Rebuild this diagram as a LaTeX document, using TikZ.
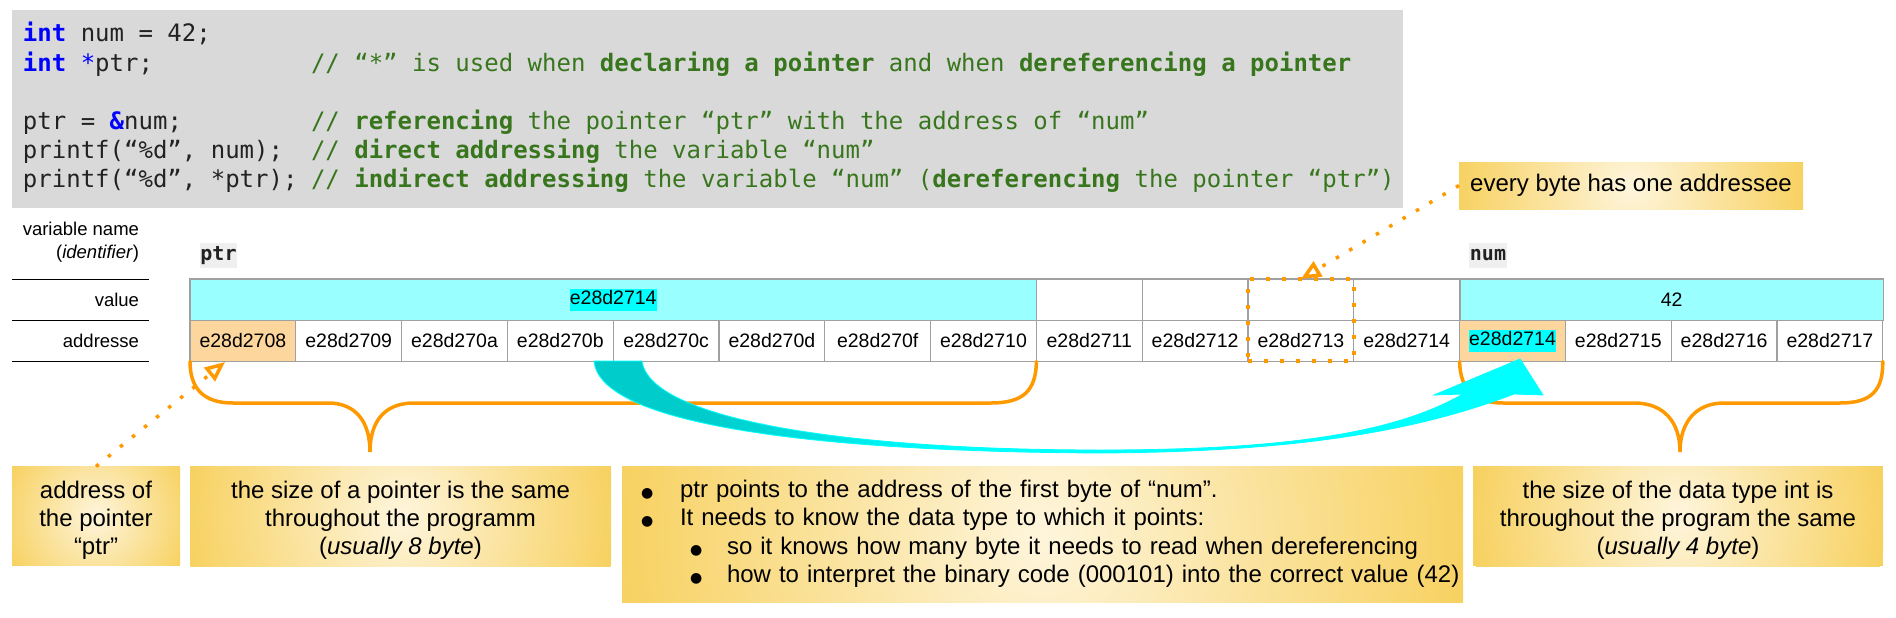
\documentclass[tikz,border=0pt]{standalone}
\usepackage{fontspec}
\setmainfont{Liberation Sans}
\newfontfamily\codefont{DejaVu Sans Mono}
\newfontfamily\symfont{DejaVu Sans}
\usetikzlibrary{arrows.meta,fit}

\definecolor{codebg}{HTML}{D9D9D9}
\definecolor{kwblue}{HTML}{0000FF}
\definecolor{cmtgreen}{HTML}{38761D}
\definecolor{codetxt}{HTML}{222222}
\definecolor{lightcyan}{HTML}{99FFFF}
\definecolor{hlcyan}{HTML}{00FFFF}
\definecolor{cyanD}{HTML}{00CCCC}
\definecolor{cellorange}{HTML}{FCD69C}
\definecolor{gridgray}{HTML}{A0A0A0}
\definecolor{orng}{HTML}{FF9900}
\definecolor{calloutout}{HTML}{F7D160}
\definecolor{calloutin}{HTML}{FEF5DC}
\definecolor{idbg}{HTML}{EFEFEF}

\newcommand\kw[1]{\textcolor{kwblue}{\textbf{#1}}}
\newcommand\hlc[1]{{\setlength{\fboxsep}{0pt}\colorbox{hlcyan}{\strut #1}}}
\newcommand\bul{{\symfont\fontsize{14}{14}\selectfont ●}}

\pgfdeclarehorizontalshading{cyanarrow}{100bp}{color(0bp)=(cyanD); color(31bp)=(cyanD); color(44bp)=(hlcyan); color(100bp)=(hlcyan)}

\begin{document}
\begin{tikzpicture}[x=1pt,y=-1pt,
  every node/.style={inner sep=0pt, outer sep=0pt},
  codeline/.style={anchor=base west, font=\codefont\fontsize{24}{29}\selectfont, text=codetxt},
  cmt/.style={codeline, text=cmtgreen},
  cellbox/.style={draw=gridgray, line width=1.2pt, minimum width=105.8pt, minimum height=41.2pt, font=\fontsize{19.5}{22}\selectfont},
  rowlabel/.style={anchor=east, font=\fontsize{18.5}{21}\selectfont},
  idlabel/.style={fill=idbg, font=\codefont\bfseries\fontsize{20}{24}\selectfont, text=codetxt, minimum height=25pt, inner xsep=0.5pt},
  brace/.style={draw=orng, line width=3.5pt, line cap=round},
  dotconn/.style={draw=orng, line width=3.5pt, dash pattern=on 3.5pt off 12pt, -{Triangle[open, length=20pt, width=17pt]}},
  callout/.style={fill=calloutout, path picture={\shade[inner color=calloutin, outer color=calloutout] (path picture bounding box.center) circle (#1);}, font=\fontsize{24}{28}\selectfont, align=center},
]
\useasboundingbox (0,0) rectangle (1896,618);

% code block
\node[fill=codebg, minimum width=1391pt, minimum height=198pt, anchor=north west] (code) at (12,10) {};
\node[codeline] (c1) at (23,42) {\kw{int} num = 42;};
\node[codeline] (c2) at (23,71) {\kw{int} \textcolor{kwblue}{*}ptr;};
\node[cmt] (m2) at (311,71) {// “*” is used when \textbf{declaring a pointer} and when \textbf{dereferencing a pointer}};
\node[codeline] (c4) at (23,129) {ptr = \kw{\&}num;};
\node[cmt] (m4) at (311,129) {// \textbf{referencing} the pointer “ptr” with the address of “num”};
\node[codeline] (c5) at (23,158) {printf(“\%d”, num);};
\node[cmt] (m5) at (311,158) {// \textbf{direct addressing} the variable “num”};
\node[codeline] (c6) at (23,187) {printf(“\%d”, *ptr);};
\node[cmt] (m6) at (311,187) {// \textbf{indirect addressing} the variable “num” (\textbf{dereferencing} the pointer “ptr”)};

% row labels
\node[rowlabel] (lvn) at (139,229) {variable name};
\node[rowlabel] (lid) at (139,254) {(\textit{identifier})};
\node[rowlabel] (lval) at (139,300) {value};
\node[rowlabel] (ladr) at (139,341) {addresse};
\draw[black, line width=1pt] (12,279) -- (149,279);
\draw[black, line width=1pt] (12,320.2) -- (149,320.2);
\draw[black, line width=1pt] (12,361.4) -- (149,361.4);

% identifiers
\node[idlabel] (lptr) at (218.5,255.5) {ptr};
\node[idlabel] (lnum) at (1488,255.5) {num};

% value row
\node[cellbox, fill=lightcyan, minimum width=846.4pt] (vptr) at (613.2,299.6) {\hlc{e28d2714}};
\foreach \i in {8,...,11} \node[cellbox] (v\i) at ({190+105.8*(\i+0.5)},299.6) {};
\node[cellbox, fill=lightcyan, minimum width=423.2pt] (vnum) at (1671.6,299.6) {42};

% address row
\foreach \i/\t/\f in {0/e28d2708/cellorange, 1/e28d2709/white, 2/e28d270a/white, 3/e28d270b/white,
  4/e28d270c/white, 5/e28d270d/white, 6/e28d270f/white, 7/e28d2710/white, 8/e28d2711/white,
  9/e28d2712/white, 10/e28d2713/white, 11/e28d2714/white, 12/{\hlc{e28d2714}}/cellorange,
  13/e28d2715/white, 14/e28d2716/white, 15/e28d2717/white}
  \node[cellbox, fill=\f] (a\i) at ({190+105.8*(\i+0.5)},340.8) {\t};

% dotted byte box
\node[draw=orng, line width=4pt, dash pattern=on 4pt off 12pt, fit=(v10)(a10), inner sep=0pt] (dbox) {};

% braces
\draw[brace] (a0.south west) .. controls (190,390) and (205,403) .. (233,403) -- (328,403)
  .. controls (356,403) and (370,422) .. (370,452) .. controls (370,422) and (384,403) .. (414,403)
  -- (991,403) .. controls (1024,403) and (1036,390) .. (a7.south east);
\draw[brace] (a12.south west) .. controls (1460,390) and (1475,403) .. (1503,403) -- (1634,403)
  .. controls (1664,403) and (1680,422) .. (1680,452) .. controls (1680,422) and (1696,403) .. (1724,403)
  -- (1840,403) .. controls (1872,403) and (1883,390) .. (a15.south east);

% cyan pointer arrow
\shadedraw[shading=cyanarrow, draw=hlcyan, line width=0.8pt]
  (594,361) .. controls (600,430) and (850,452) .. (1100,453)
  .. controls (1300,452) and (1420,430) .. (1514,394)
  -- (1543,395) -- (1520,359) -- (1434,395) -- (1463,394)
  .. controls (1400,430) and (1300,450) .. (1100,450)
  .. controls (850,450) and (650,420) .. (642,361) -- cycle;

% callouts
\node[callout=98] [minimum width=168pt, minimum height=99pt] (b1) at (96,516) {\rule{0pt}{25pt}address of\\the pointer\\“ptr”};
\node[callout=216] [minimum width=421pt, minimum height=100pt] (b2) at (400.5,516) {\rule{0pt}{25pt}the size of a pointer is the same\\throughout the programm\\(\textit{usually 8 byte})};
\node[callout=427] [minimum width=841pt, minimum height=136pt, align=left, text width=841pt, font=\fontsize{24}{28.5}\selectfont] (b3) at (1042.5,534) {%
\hspace*{19pt}\makebox[39pt][l]{\bul}ptr points to the address of the first byte of “num”.\\
\hspace*{19pt}\makebox[39pt][l]{\bul}It needs to know the data type to which it points:\\
\hspace*{68pt}\makebox[37pt][l]{\bul}so it knows how many byte it needs to read when dereferencing\\
\hspace*{68pt}\makebox[37pt][l]{\bul}how to interpret the binary code (000101) into the correct value (42)};
\node[callout=208] [minimum width=410pt, minimum height=100pt] (b4) at (1678,516) {\rule{0pt}{25pt}the size of the data type int is\\throughout the program the same\\(\textit{usually 4 byte})};
\node[callout=175] [minimum width=344pt, minimum height=47pt] (b5) at (1631,185.5) {every byte has one addressee};

% dotted connectors
\coordinate (ptip) at (225,362);
\draw[dotconn] (b1.north) -- (ptip);
\draw[dotconn] (b5.west) -- (dbox.north);
\end{tikzpicture}
\end{document}
